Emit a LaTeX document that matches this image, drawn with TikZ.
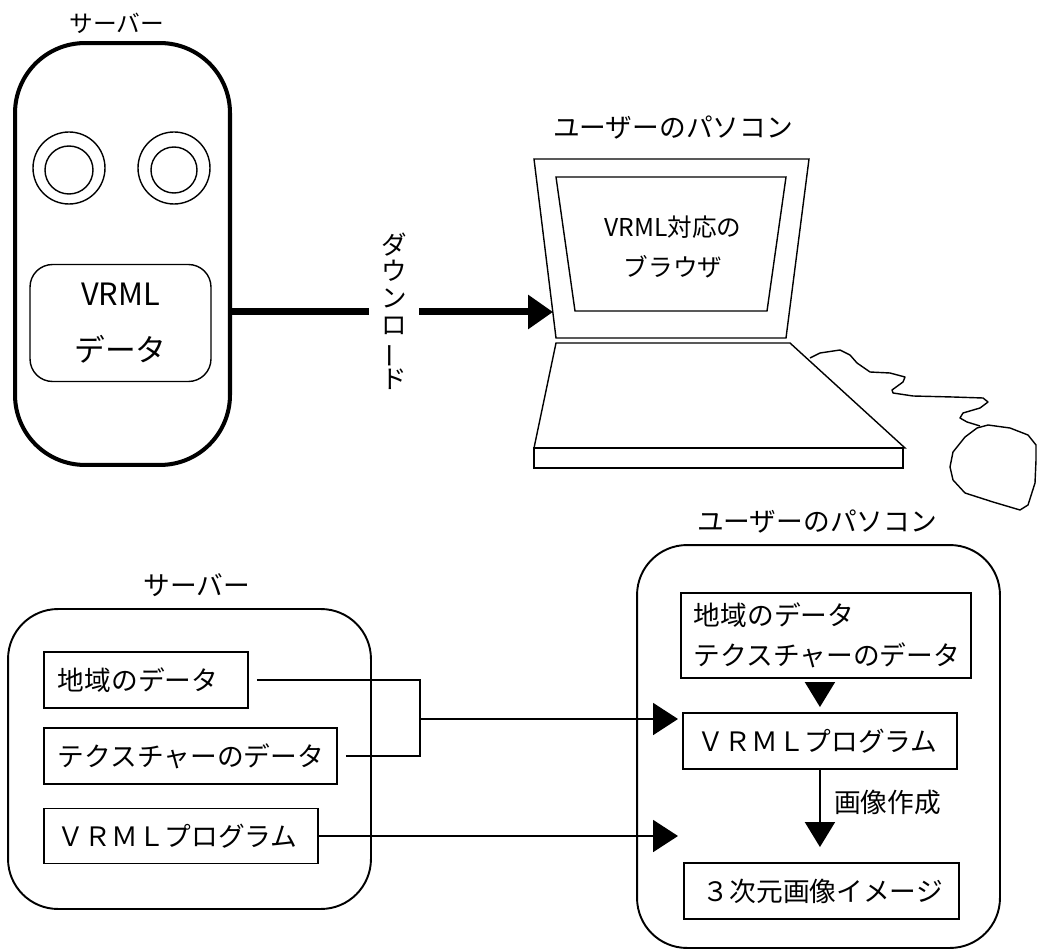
\documentclass[tikz,border=0pt]{standalone}
\usepackage{fontspec}
\setmainfont{Noto Sans CJK JP}
\usetikzlibrary{arrows.meta}

\begin{document}
\begin{tikzpicture}[x=0.02cm,y=-0.02cm,
  every node/.style={font=\fontsize{15.2pt}{18pt}\selectfont},
  box/.style={draw,line width=1.1pt,inner xsep=0.28cm,minimum height=1.12cm,anchor=west,align=left},
  frame/.style={draw,line width=1.1pt,rounded corners=1cm},
  flow/.style={line width=1.1pt,-{Triangle[length=0.5cm,width=0.64cm]}}]
\useasboundingbox (0,0) rectangle (1037,952);

% server with its data
\node[font=\fontsize{13.5pt}{15pt}\selectfont] (srvlbl) at (117,23) {サーバー};
\node[draw,line width=2.3pt,rounded corners=1.4cm,minimum width=4.3cm,minimum height=8.44cm] (srv) at (122.5,254) {};
\draw[line width=0.8pt] (69,168) circle[radius=36] (69,170) circle[radius=24];
\draw[line width=0.8pt] (174,168) circle[radius=36] (174,170) circle[radius=23];
\node[draw,line width=0.8pt,rounded corners=0.45cm,minimum width=3.62cm,minimum height=2.34cm,align=center,font=\fontsize{17.5pt}{32pt}\selectfont] (vdat) at (120.5,323) {VRML\\データ};

% download
\coordinate (tip) at (553,312);
\node[align=center,minimum width=1cm,font=\fontsize{14.5pt}{15.3pt}\selectfont] (dl) at (394,311) {ダ\\ウ\\ン\\ロ\\\rotatebox[origin=c]{90}{ー}\\ド};
\draw[line width=0.14cm] (srv.east |- tip) -- (dl.west |- tip);
\draw[line width=0.14cm,-{Triangle[length=0.5cm,width=0.66cm]}] (dl.east |- tip) -- (tip);

% laptop and mouse
\node (pclbl) at (673,128) {ユーザーのパソコン};
\draw[line width=0.8pt] (534,159) -- (809,159) -- (786,338) -- (556,338) -- cycle;
\draw[line width=0.8pt] (556,177) -- (786,177) -- (767,311) -- (575,311) -- cycle;
\node[align=center,font=\fontsize{14pt}{22.7pt}\selectfont] (brw) at (673,247) {VRML対応の\\ブラウザ};
\draw[line width=0.8pt] (556,343) -- (790,343) -- (905,448) -- (534,448) -- cycle;
\draw[line width=0.8pt] (534,448) rectangle (903,468);
\draw[line width=0.8pt,line join=round] (810,358) -- (820,353) -- (840,350) -- (850,355) -- (857,363) -- (870,372) -- (890,373) -- (905,377) -- (903,382) -- (892,390) -- (893,393) -- (913,396) -- (953,397) -- (983,398) -- (988,402) -- (980,408) -- (963,413) -- (960,418) -- (967,422) -- (980,426);
\draw[line width=0.8pt,line join=round] (977,428) -- (988,425) -- (1010,428) -- (1028,435) -- (1036,445) -- (1036,460) -- (1035,483) -- (1028,505) -- (1020,510) -- (993,502) -- (965,493) -- (953,480) -- (950,467) -- (953,452) -- (965,437) -- cycle;

% server side
\node (srv2lbl) at (197,585) {サーバー};
\node[frame,minimum width=7.26cm,minimum height=6cm] (srv2) at (189.5,759) {};
\node[box,text width=3.52cm] (reg) at (43,680) {地域のデータ};
\node[box,text width=5.3cm] (tex) at (43,756) {テクスチャーのデータ};
\node[box,text width=4.92cm,minimum height=1.1cm] (lprog) at (43,836) {ＶＲＭＬプログラム};

% user side
\node (pc2lbl) at (817,522) {ユーザーのパソコン};
\node[frame,minimum width=7.26cm,minimum height=8.06cm] (pc2) at (818.5,746.5) {};
\node[box,text width=5.28cm,inner xsep=0.26cm,minimum height=1.7cm,font=\fontsize{15.2pt}{22.5pt}\selectfont] (dat) at (680,635.5) {地域のデータ\\テクスチャーのデータ};
\node[box,text width=4.88cm,inner xsep=0.3cm] (rprog) at (682,741) {ＶＲＭＬプログラム};
\node[box,text width=4.74cm,inner xsep=0.38cm] (img) at (683,891) {３次元画像イメージ};

% connections
\coordinate (j) at (420,719);
\draw[line width=1.1pt,shorten <=0.16cm] (reg.east) -| (j);
\draw[line width=1.1pt,shorten <=0.16cm] (tex.east) -| (j);
\draw[flow,shorten >=0.08cm] (j) -- (j -| rprog.west);
\draw[flow,shorten >=0.08cm] (lprog.east) -- (lprog.east -| rprog.west);
\draw[flow,-{Triangle[length=0.5cm,width=0.6cm]},shorten <=0.1cm,shorten >=0.1cm] (rprog.north |- dat.south) -- (rprog.north);
\draw[flow,-{Triangle[length=0.5cm,width=0.6cm]},shorten >=0.3cm] (rprog.south) -- node[pos=0.35,right=0.15cm] (mk) {画像作成} (rprog.south |- img.north);
\end{tikzpicture}
\end{document}
